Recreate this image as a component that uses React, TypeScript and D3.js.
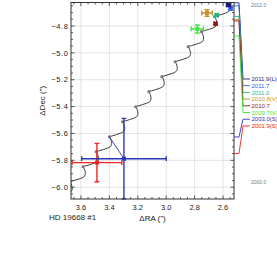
import React from 'react';
import * as d3 from 'd3';

// ---------- data ----------
const xTicks = [3.6, 3.4, 3.2, 3.0, 2.8, 2.6];
const yTicks = [-4.8, -5.0, -5.2, -5.4, -5.6, -5.8, -6.0];

// background-track (RA, Dec)
const trackPoints: [number, number][] = [
  [3.671, -6.035], [3.6625, -6.020], [3.6625, -5.997], [3.6695, -5.975],
  [3.677, -5.960], [3.656, -5.9525], [3.628, -5.944], [3.600, -5.934], [3.579, -5.923], [3.570, -5.908], [3.570, -5.885], [3.577, -5.863],
  [3.585, -5.848], [3.564, -5.841], [3.536, -5.832], [3.508, -5.822], [3.487, -5.811], [3.478, -5.796], [3.478, -5.773], [3.485, -5.751],
  [3.492, -5.736], [3.471, -5.729], [3.443, -5.720], [3.415, -5.710], [3.394, -5.699], [3.385, -5.684], [3.385, -5.661], [3.392, -5.639],
  [3.400, -5.625], [3.379, -5.618], [3.351, -5.609], [3.323, -5.599], [3.302, -5.588], [3.293, -5.573], [3.293, -5.550], [3.300, -5.528],
  [3.307, -5.513], [3.286, -5.506], [3.258, -5.497], [3.230, -5.487], [3.209, -5.476], [3.200, -5.461], [3.200, -5.438], [3.207, -5.416],
  [3.215, -5.401], [3.194, -5.394], [3.166, -5.385], [3.138, -5.375], [3.117, -5.364], [3.108, -5.349], [3.108, -5.326], [3.115, -5.304],
  [3.122, -5.289], [3.101, -5.282], [3.073, -5.273], [3.045, -5.263], [3.024, -5.252], [3.015, -5.237], [3.015, -5.214], [3.022, -5.192],
  [3.030, -5.177], [3.009, -5.170], [2.981, -5.161], [2.953, -5.151], [2.932, -5.140], [2.923, -5.125], [2.923, -5.102], [2.930, -5.080],
  [2.937, -5.066], [2.916, -5.059], [2.888, -5.050], [2.860, -5.040], [2.839, -5.029], [2.830, -5.014], [2.830, -4.991], [2.837, -4.969],
  [2.845, -4.954], [2.824, -4.947], [2.796, -4.938], [2.768, -4.928], [2.747, -4.917], [2.738, -4.902], [2.738, -4.879], [2.745, -4.857],
  [2.752, -4.842], [2.731, -4.835], [2.703, -4.826], [2.675, -4.816], [2.654, -4.805], [2.645, -4.790], [2.645, -4.767], [2.652, -4.745],
  [2.660, -4.730], [2.639, -4.723], [2.611, -4.714], [2.583, -4.704], [2.562, -4.693], [2.553, -4.678], [2.553, -4.655], [2.560, -4.633],
  [2.567, -4.618], [2.546, -4.611], [2.518, -4.602],
];

// yearly marks on the track (2000.0 ... 2012.0)
const yearMarkRA = [3.677, 3.585, 3.492, 3.400, 3.307, 3.215, 3.122, 3.030, 2.937, 2.845, 2.752, 2.660, 2.567];
const yearMarkDec = [-5.960, -5.848, -5.736, -5.625, -5.513, -5.401, -5.289, -5.177, -5.066, -4.954, -4.842, -4.730, -4.618];

// observations
const epochLabels = ['2011.9(L)', '2011.7', '2011.0', '2010.8(V)', '2010.7', '2009.7(V)', '2003.0(S)', '2001.9(S)'];
const epochYears = [2011.9, 2011.7, 2011.0, 2010.8, 2010.7, 2009.7, 2003.0, 2001.9];
const epochColors = ['#1c1c78', '#2f62e6', '#1fb58a', '#c8902c', '#8c1c1c', '#3ee83e', '#2a36b8', '#f02424'];
const obsRA = [2.561, 2.547, 2.644, 2.713, 2.653, 2.781, 3.2975, 3.4875];
const obsDec = [-4.643, -4.670, -4.720, -4.703, -4.783, -4.822, -5.788, -5.817];
const errRA = [0.015, 0.008, 0.010, 0.037, 0.008, 0.043, 0.2975, 0.175];
const errDec = [0.012, 0.008, 0.008, 0.024, 0.008, 0.030, 0.300, 0.143];
const predRA: (number | null)[] = [null, null, null, null, null, null, 3.400, 3.487];
const predDec: (number | null)[] = [null, null, null, null, null, null, -5.625, -5.755];

const timeEnds = [2012.0, 2000.0];

// ---------- layout ----------
const W = 277, H = 262;
const L = 71, R = 234, T = 2.5, B = 199;
const FONT = 'Liberation Sans, Arial, Helvetica, sans-serif';

export default function App() {
  const x = d3.scaleLinear().domain([3.67, 2.523]).range([L, R]);
  const y = d3.scaleLinear().domain([-4.625, -6.088]).range([T, B]);
  const t = d3.scaleLinear().domain([2000, 2012]).range([182.2, 1.3]);

  const line = d3.line<[number, number]>()
    .x(d => x(d[0])).y(d => y(d[1]))
    .curve(d3.curveCatmullRom.alpha(0.5));

  const xMinor = d3.range(3.65, 2.52, -0.05);
  const yMinor = d3.range(-4.65, -6.09, -0.05);

  const labelY0 = 79, labelStep = 6.7;
  const cap = 2.4;

  return (
    <svg width={W} height={H} style={{ position: 'absolute', left: 0, top: 0, background: '#fff' }}
      fontFamily={FONT}>
      <defs>
        <clipPath id="plotClip">
          <rect x={L} y={T} width={R - L} height={B - T + 0.8} />
        </clipPath>
      </defs>
      {/* grid */}
      {xTicks.map(v => (
        <line key={'gx' + v} x1={x(v)} x2={x(v)} y1={T} y2={B} stroke="#e3e3e3" strokeWidth={1} />
      ))}
      {yTicks.map(v => (
        <line key={'gy' + v} x1={L} x2={R} y1={y(v)} y2={y(v)} stroke="#e3e3e3" strokeWidth={1} />
      ))}

      <g clipPath="url(#plotClip)">
        {/* track */}
        <path d={line(trackPoints) || ''} fill="none" stroke="#2a2a2a" strokeWidth={0.9} />
        {yearMarkRA.map((ra, i) => (
          <circle key={'ym' + i} cx={x(ra)} cy={y(yearMarkDec[i])} r={1.6} fill="#7a7a7a" />
        ))}
        {/* connectors */}
        {predRA.map((p, i) => p === null ? null : (
          <line key={'pc' + i} x1={x(obsRA[i])} y1={y(obsDec[i])} x2={x(p)} y2={y(predDec[i] as number)}
            stroke={epochColors[i]} strokeWidth={0.9} />
        ))}
        {/* observations, drawn oldest first */}
        {obsRA.map((_, k) => {
          const i = obsRA.length - 1 - k;
          const cx = x(obsRA[i]), cy = y(obsDec[i]);
          const x1 = x(obsRA[i] + errRA[i]), x2 = x(obsRA[i] - errRA[i]);
          const y1 = y(obsDec[i] + errDec[i]), y2 = y(obsDec[i] - errDec[i]);
          const c = epochColors[i];
          const sw = 1.4;
          return (
            <g key={'ob' + i} stroke={c} strokeWidth={sw}>
              <line x1={x1} x2={x2} y1={cy} y2={cy} />
              <line x1={cx} x2={cx} y1={y1} y2={y2} />
              <line x1={x1} x2={x1} y1={cy - cap} y2={cy + cap} />
              <line x1={x2} x2={x2} y1={cy - cap} y2={cy + cap} />
              <line x1={cx - cap} x2={cx + cap} y1={y1} y2={y1} />
              <line x1={cx - cap} x2={cx + cap} y1={y2} y2={y2} />
              <rect x={cx - 2} y={cy - 2} width={4} height={4} fill={c} stroke="none" />
            </g>
          );
        })}
      </g>

      {/* frame */}
      <rect x={L} y={T} width={R - L} height={B - T} fill="none" stroke="#333" strokeWidth={1} />
      {/* ticks */}
      {xMinor.map((v, i) => {
        const major = xTicks.some(m => Math.abs(m - v) < 1e-6);
        const len = major ? 3.5 : 2;
        return (
          <g key={'xt' + i} stroke="#333" strokeWidth={0.8}>
            <line x1={x(v)} x2={x(v)} y1={B} y2={B - len} />
            <line x1={x(v)} x2={x(v)} y1={T} y2={T + len} />
          </g>
        );
      })}
      {yMinor.map((v, i) => {
        const major = yTicks.some(m => Math.abs(m - v) < 1e-6);
        const len = major ? 3.5 : 2;
        return (
          <g key={'yt' + i} stroke="#333" strokeWidth={0.8}>
            <line x1={L} x2={L + len} y1={y(v)} y2={y(v)} />
            <line x1={R} x2={R - len} y1={y(v)} y2={y(v)} />
          </g>
        );
      })}
      {/* tick labels */}
      {xTicks.map(v => (
        <text key={'xl' + v} x={x(v)} y={210} textAnchor="middle" fontSize={7.5} fill="#222">
          {d3.format('.1f')(v)}
        </text>
      ))}
      {yTicks.map(v => (
        <text key={'yl' + v} x={68.5} y={y(v) + 2.7} textAnchor="end" fontSize={7.5} fill="#222" letterSpacing={0.6}>
          {d3.format('.1f')(v).replace('-', '\u2212')}
        </text>
      ))}
      {/* axis titles */}
      <text x={(L + R) / 2} y={220.5} textAnchor="middle" fontSize={8} fill="#222">ΔRA (")</text>
      <text transform={`translate(44.5, ${(T + B) / 2}) rotate(-90)`} textAnchor="middle" fontSize={8} fill="#222">ΔDec (")</text>
      <text x={49} y={219.5} fontSize={8} fill="#222">HD 19668 #1</text>

      {/* time panel */}
      <text x={251} y={7} fontSize={5} fill="#777">{timeEnds[0].toFixed(1)}</text>
      <text x={251} y={184} fontSize={5} fill="#777">{timeEnds[1].toFixed(1)}</text>
      {epochYears.map((yr, i) => {
        const ty = t(yr);
        const ly = labelY0 + i * labelStep;
        const c = epochColors[i];
        return (
          <g key={'tl' + i}>
            <polyline points={`${R},${ty} ${239},${ty} ${243},${ly} ${250},${ly}`} fill="none" stroke={c} strokeWidth={0.9} />
            <text x={251.5} y={ly + 2.1} fontSize={6} fill={c}>{epochLabels[i]}</text>
          </g>
        );
      })}
    </svg>
  );
}
